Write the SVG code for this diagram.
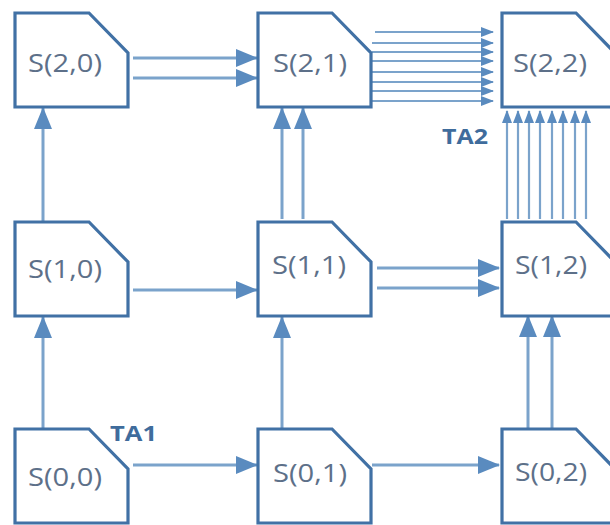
<svg xmlns="http://www.w3.org/2000/svg" width="610" height="525" viewBox="0 0 610 525">
<style>
.box{fill:#fff;stroke:#4171a5;stroke-width:3.2;stroke-linejoin:miter}
.lbl{font-family:"Open Sans","Liberation Sans",sans-serif;font-size:25px;fill:#5d7089}
.ta{font-family:"Open Sans","Liberation Sans",sans-serif;font-size:21px;font-weight:bold;fill:#3f6c9c}
.c{stroke:#7ba3cb;stroke-width:3;fill:none}
.cb{marker-end:url(#big)}
.ct{stroke-width:2.2;marker-end:url(#small)}
</style>
<defs>
<marker id="big" markerUnits="userSpaceOnUse" markerWidth="22" markerHeight="20" refX="21" refY="10" orient="auto">
<path d="M0,1 L22,10 L0,19 Z" fill="#5a8bbf"/>
</marker>
<marker id="small" markerUnits="userSpaceOnUse" markerWidth="13" markerHeight="10" refX="12" refY="5" orient="auto">
<path d="M0,0 L13,5 L0,10 Z" fill="#5a8bbf"/>
</marker>
</defs>
<rect width="610" height="525" fill="#fff"/>
<g id="connectors">
<path class="c cb" d="M133,58 H257"/>
<path class="c cb" d="M133,78 H257"/>
<path class="c ct" d="M375,32 H493"/>
<path class="c ct" d="M372,43 H493"/>
<path class="c ct" d="M372,52 H493"/>
<path class="c ct" d="M372,61 H493"/>
<path class="c ct" d="M372,72 H493"/>
<path class="c ct" d="M372,82 H493"/>
<path class="c ct" d="M372,91 H493"/>
<path class="c ct" d="M372,101 H493"/>
<path class="c cb" d="M282,219 V108"/>
<path class="c cb" d="M303,219 V108"/>
<path class="c ct" d="M507,219 V111"/>
<path class="c ct" d="M518,219 V111"/>
<path class="c ct" d="M529,219 V111"/>
<path class="c ct" d="M540,219 V111"/>
<path class="c ct" d="M552,219 V111"/>
<path class="c ct" d="M563,219 V111"/>
<path class="c ct" d="M575,219 V111"/>
<path class="c ct" d="M586,219 V111"/>
<path class="c cb" d="M43,222 V108"/>
<path class="c cb" d="M43,429 V317"/>
<path class="c cb" d="M133,290 H257"/>
<path class="c cb" d="M377,268 H499"/>
<path class="c cb" d="M377,288 H499"/>
<path class="c cb" d="M282,429 V317"/>
<path class="c cb" d="M528,428 V316"/>
<path class="c cb" d="M552,428 V316"/>
<path class="c cb" d="M133,465 H257"/>
<path class="c cb" d="M372,465 H499"/>
</g>
<g id="S20"><path class="box" d="M15,13 h74 l39,40 v54 h-113 z"/><text class="lbl" x="28" y="72" textLength="74" lengthAdjust="spacingAndGlyphs">S(2,0)</text></g>
<g id="S21"><path class="box" d="M258,13 h74 l39,40 v54 h-113 z"/><text class="lbl" x="273" y="72" textLength="74" lengthAdjust="spacingAndGlyphs">S(2,1)</text></g>
<g id="S22"><path class="box" d="M502,13 h74 l39,40 v54 h-113 z"/><text class="lbl" x="513" y="72" textLength="74" lengthAdjust="spacingAndGlyphs">S(2,2)</text></g>
<g id="S10"><path class="box" d="M15,222 h74 l39,40 v54 h-113 z"/><text class="lbl" x="28" y="278" textLength="74" lengthAdjust="spacingAndGlyphs">S(1,0)</text></g>
<g id="S11"><path class="box" d="M258,222 h74 l39,40 v54 h-113 z"/><text class="lbl" x="272" y="274" textLength="74" lengthAdjust="spacingAndGlyphs">S(1,1)</text></g>
<g id="S12"><path class="box" d="M502,222 h74 l39,40 v54 h-113 z"/><text class="lbl" x="515" y="274" textLength="72" lengthAdjust="spacingAndGlyphs">S(1,2)</text></g>
<g id="S00"><path class="box" d="M15,429 h74 l39,40 v54 h-113 z"/><text class="lbl" x="28" y="486" textLength="74" lengthAdjust="spacingAndGlyphs">S(0,0)</text></g>
<g id="S01"><path class="box" d="M258,429 h74 l39,40 v54 h-113 z"/><text class="lbl" x="273" y="482" textLength="74" lengthAdjust="spacingAndGlyphs">S(0,1)</text></g>
<g id="S02"><path class="box" d="M502,429 h74 l39,40 v54 h-113 z"/><text class="lbl" x="515" y="481" textLength="72" lengthAdjust="spacingAndGlyphs">S(0,2)</text></g>
<g id="labels">
<text class="ta" x="110" y="441" textLength="47" lengthAdjust="spacingAndGlyphs">TA1</text>
<text class="ta" x="442" y="144" textLength="46" lengthAdjust="spacingAndGlyphs">TA2</text>
</g>
</svg>
